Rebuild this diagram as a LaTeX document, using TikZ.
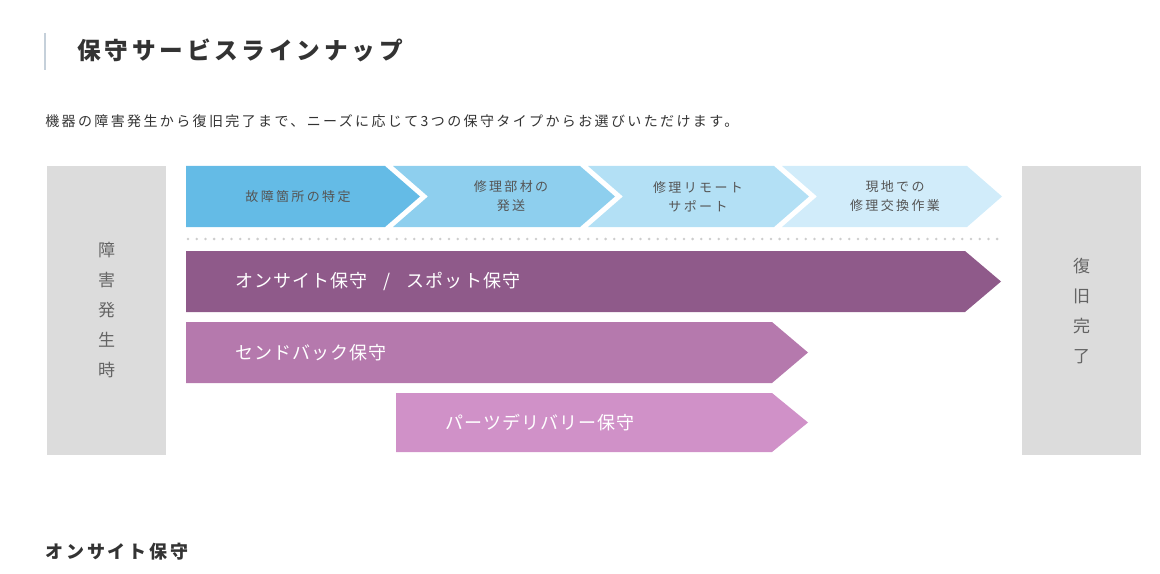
\documentclass[tikz,border=0pt]{standalone}
\usepackage{fontspec}
\setmainfont{Noto Sans CJK JP}
\newfontfamily\titlefont[LetterSpace=16]{Noto Sans CJK JP}
\newfontfamily\leadfont[LetterSpace=17]{Noto Sans CJK JP}
\newfontfamily\stepfont[LetterSpace=18]{Noto Sans CJK JP}
\newfontfamily\planfont[LetterSpace=6]{Noto Sans CJK JP}
\definecolor{barline}{RGB}{197,208,218}
\definecolor{boxgray}{RGB}{220,220,220}
\definecolor{boxtext}{RGB}{100,100,100}
\definecolor{inktext}{RGB}{51,51,51}
\definecolor{steptext}{RGB}{85,85,85}
\definecolor{stepA}{RGB}{100,187,230}
\definecolor{stepB}{RGB}{142,207,238}
\definecolor{stepC}{RGB}{179,224,245}
\definecolor{stepD}{RGB}{209,236,250}
\definecolor{planA}{RGB}{143,90,138}
\definecolor{planB}{RGB}{181,121,173}
\definecolor{planC}{RGB}{208,145,200}
\definecolor{dotgray}{RGB}{205,205,205}
\tikzset{
  sidelabel/.style={text=boxtext, font=\fontsize{12.75}{22.5}\selectfont, align=center, inner sep=0pt},
  steplabel/.style={text=steptext, font=\stepfont\fontsize{9.75}{14.25}\selectfont, align=center, inner sep=0pt},
  planlabel/.style={text=white, font=\planfont\fontsize{13.5}{16}\selectfont, anchor=west, inner sep=0pt},
}
\begin{document}
\begin{tikzpicture}[x=0.75pt,y=0.75pt,yscale=-1,xscale=1]
			\useasboundingbox (0,0) rectangle (1160,574);
			
			%Heading bar
			\draw [color=barline, line width=1.5pt] (45,33) -- (45,70);
			% Text Node
			\node (title) [anchor=west, inner sep=0pt, text=inktext, font=\titlefont\bfseries\fontsize{17.75}{20}\selectfont] at (77,50) {保守サービスラインナップ};
			% Text Node
			\node (lead) [anchor=west, inner sep=0pt, text=inktext, font=\leadfont\fontsize{10.5}{12}\selectfont] at (45,121) {機器の障害発生から復旧完了まで、ニーズに応じて3つの保守タイプからお選びいただけます。};
			
			%Shape: Rectangle (start)
			\fill [boxgray] (47,166) rectangle (166,455);
			\node (start) [sidelabel] at (106.5,310.5) {障\\害\\発\\生\\時};
			%Shape: Rectangle (end)
			\fill [boxgray] (1022,166) rectangle (1141,455);
			\node (finish) [sidelabel] at (1081.5,311.5) {復\\旧\\完\\了};
			
			%Shape: Steps
			\fill [stepA] (186,166) -- (385,166) -- (420,196.5) -- (385,227) -- (186,227) -- cycle;
			\fill [stepB] (393,166) -- (580,166) -- (615,196.5) -- (580,227) -- (393,227) -- (428,196.5) -- cycle;
			\fill [stepC] (588,166) -- (774,166) -- (809,196.5) -- (774,227) -- (588,227) -- (623,196.5) -- cycle;
			\fill [stepD] (782,166) -- (967,166) -- (1002,196.5) -- (967,227) -- (782,227) -- (817,196.5) -- cycle;
			% Text Node
			\node (find) [steplabel] at (298,196.5) {故障箇所の特定};
			\node (ship) [steplabel] at (511,196.5) {修理部材の\\発送};
			\node (remote) [steplabel] at (698,196.5) {修理リモート\\サポート};
			\node (onsite) [steplabel] at (895,196.5) {現地での\\修理交換作業};
			
			%Dotted line
			\foreach \i in {0,...,93}
			  \fill [dotgray] (188+\i*8.7,239) circle [radius=1.4];
			
			%Shape: Plans
			\fill [planA] (186,251) -- (965,251) -- (1001,281.5) -- (965,312) -- (186,312) -- cycle;
			\fill [planB] (186,322) -- (772,322) -- (808,352.5) -- (772,383) -- (186,383) -- cycle;
			\fill [planC] (396,393) -- (772,393) -- (808,422.5) -- (772,452) -- (396,452) -- cycle;
			% Text Node
			\node (spot) [planlabel] at (235,281.5) {オンサイト保守\hspace{12pt}/\hspace{12pt}スポット保守};
			\node (sendback) [planlabel] at (235,352.5) {センドバック保守};
			\node (parts) [planlabel] at (445,422.5) {パーツデリバリー保守};
			
			% Text Node
			\node (next) [anchor=west, inner sep=0pt, text=inktext, font=\titlefont\bfseries\fontsize{13.5}{15}\selectfont] at (45,552) {オンサイト保守};
			
\end{tikzpicture}
\end{document}
